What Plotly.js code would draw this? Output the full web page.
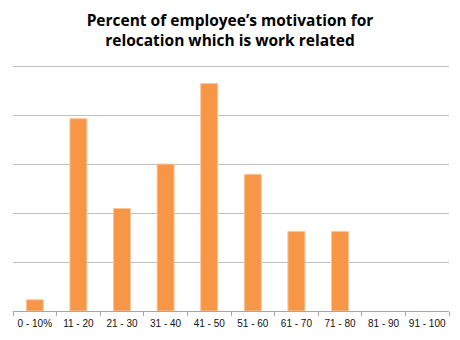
<!DOCTYPE html>
<html>
<head>
<meta charset="utf-8">
<script src="https://cdn.plot.ly/plotly-3.0.1.min.js"></script>
<style>html,body{margin:0;padding:0;background:#fff;}#chart{width:460px;height:340px;}</style>
</head>
<body>
<div id="chart"></div>
<script>
const categories = ["0 - 10%", "11 - 20", "21 - 30", "31 - 40", "41 - 50", "51 - 60", "61 - 70", "71 - 80", "81 - 90", "91 - 100"];
const values = [0.23, 3.94, 2.10, 3.01, 4.66, 2.80, 1.63, 1.63, 0, 0];

const trace = {
  type: 'bar',
  x: categories,
  y: values,
  marker: {color: '#F79646', line: {color: '#FBC79F', width: values.map(v => v > 0 ? 1 : 0)}},
  hoverinfo: 'none'
};

const layout = {
  width: 460, height: 340,
  margin: {l: 13, r: 11, t: 64, b: 29},
  paper_bgcolor: '#fff', plot_bgcolor: '#fff',
  bargap: 0.61,
  showlegend: false,
  title: {
    text: "<b>Percent of employee’s motivation for<br>relocation which is work related</b>",
    x: 0.5, xanchor: 'center', y: 0.925, yanchor: 'top',
    font: {family: 'Open Sans, sans-serif', size: 15.5, color: '#000'}
  },
  xaxis: {
    type: 'category',
    showline: true, linecolor: '#A6A6A6', linewidth: 1,
    ticks: 'outside', tickson: 'boundaries', ticklen: 4, tickcolor: '#A6A6A6',
    tickangle: 0, ticklabelstandoff: 3,
    tickfont: {family: 'Liberation Sans, Arial, sans-serif', size: 10, color: '#111'},
    showgrid: false, zeroline: false
  },
  yaxis: {
    range: [0, 5.06], tickvals: [1, 2, 3, 4, 5], showticklabels: false,
    showgrid: true, gridcolor: '#BFBFBF', gridwidth: 1,
    zeroline: false, showline: false, ticks: ''
  }
};

Plotly.newPlot('chart', [trace], layout, {staticPlot: true, displayModeBar: false});
</script>
</body>
</html>
